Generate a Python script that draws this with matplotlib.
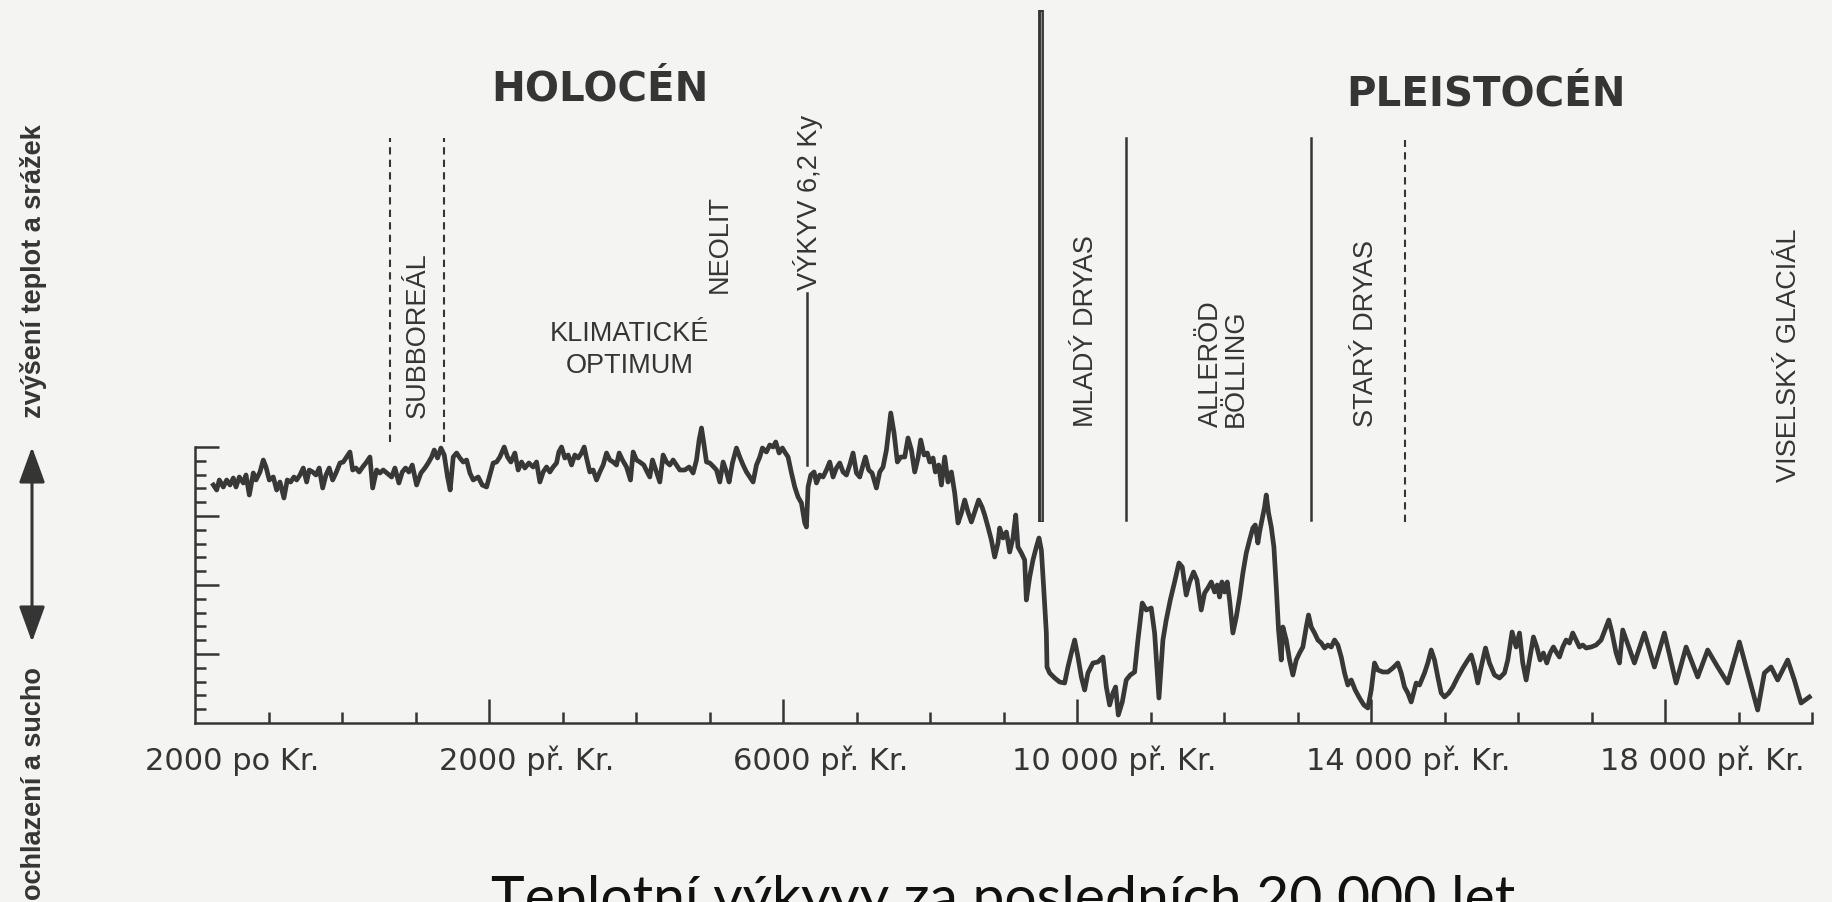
import matplotlib
matplotlib.use("Agg")
import matplotlib.pyplot as plt
import numpy as np

# curve: years before 2000 AD and a relative climate level (axis 0..276)
years_bp = np.array([
    250, 295, 331, 385, 431, 476, 521, 558, 603, 657, 694, 739, 793, 830, 884, 929, 966, 1011,
    1065, 1111, 1156, 1210, 1255, 1301, 1346, 1383, 1428, 1473, 1519, 1554, 1601, 1646, 1690,
    1737, 1782, 1826, 1873, 1918, 1972, 2017, 2063, 2108, 2145, 2190, 2234, 2281, 2335, 2380,
    2417, 2471, 2516, 2561,
    2675, 2720, 2774, 2820, 2865, 2910, 2956, 3015, 3074, 3128, 3173, 3219, 3255, 3300, 3346,
    3391, 3436, 3472, 3513, 3559, 3604, 3649, 3695, 3740, 3785, 3853, 3908, 3967, 4012, 4057,
    4103, 4148, 4207, 4252, 4298, 4352, 4397, 4443, 4488, 4542, 4601, 4647, 4692, 4737, 4783,
    4828, 4873, 4919, 4950, 4987, 5032, 5077, 5123, 5168, 5213, 5259, 5295, 5327, 5372, 5417,
    5463, 5508, 5553, 5599, 5644, 5689, 5735, 5771, 5816, 5871, 5925, 5961, 6007, 6052, 6106,
    6152, 6188, 6224, 6270, 6324, 6369, 6415, 6460, 6505, 6551, 6596, 6664, 6723, 6777, 6823,
    6859, 6891, 6922, 6959, 7004, 7058, 7095, 7140, 7185, 7231, 7267, 7312, 7367, 7412, 7457,
    7503, 7548, 7593, 7639, 7684, 7720, 7774, 7820, 7865, 7901, 7947, 7992, 8024, 8069, 8115,
    8160, 8205,
    8251, 8296, 8319, 8341, 8378, 8423, 8455, 8500, 8545, 8591, 8636, 8681, 8727, 8772, 8817,
    8863, 8908, 8953, 8999, 9044, 9089, 9121, 9166, 9212, 9271, 9316, 9361, 9407, 9466, 9511,
    9556, 9602, 9656, 9701, 9747, 9792, 9837, 9874, 9919, 9964, 9996, 10041, 10073, 10118,
    10155, 10200, 10245, 10291, 10336, 10381, 10427, 10472, 10517, 10563, 10608, 10662, 10708,
    10744, 10789, 10835, 10880, 10925,
    10948, 10993, 11039, 11084, 11129, 11166, 11197, 11243, 11288, 11311, 11356, 11401, 11447,
    11483, 11515, 11546, 11583, 11592, 11628, 11696, 11764, 11832, 11877, 11923, 11968, 12013,
    12059, 12104, 12149, 12217, 12285, 12353, 12399, 12444, 12489, 12525, 12562, 12616, 12670,
    12725, 12784, 12829, 12888, 12942, 13010, 13056, 13115, 13169, 13214, 13269, 13328, 13387,
    13432, 13486, 13532, 13586, 13632, 13690, 13736,
    13781, 13827, 13872, 13908, 13940, 13972, 14008, 14044, 14076, 14121, 14167, 14212, 14257,
    14303, 14348, 14393, 14425, 14461, 14484, 14516, 14552, 14575, 14606, 14643, 14679, 14711,
    14742, 14779, 14801, 14847, 14892, 14937, 14983, 15028, 15073, 15119, 15150, 15187, 15232,
    15277, 15323, 15368, 15413, 15459, 15504, 15549, 15595, 15640, 15685, 15731, 15785, 15844,
    15903, 15957, 16003, 16048, 16093, 16161, 16229, 16297, 16365, 16411, 16456, 16501, 16547,
    16615, 16660, 16728, 16773, 16819, 16864, 16909, 16955, 17000, 17059, 17113, 17181, 17249,
    17317, 17363, 17408, 17453, 17499, 17558, 17612, 17680, 17748, 17816, 17861, 17920, 17975,
    18020, 18065, 18111, 18156, 18210, 18256, 18301, 18346, 18392, 18437, 18482, 18528, 18564,
    18609, 18655, 18700, 18745, 18791, 18836, 18881, 18927, 18995, 19063, 19131, 19199, 19235,
    19280, 19335, 19380,
    19425, 19584, 19720, 19856, 19992, 20151, 20287, 20445, 20581, 20717, 20853, 21012, 21125,
    21261, 21352, 21443, 21533, 21669, 21760, 21851, 21964,
])
level = np.array([
    238, 233, 243, 236, 243, 238, 245, 236, 246, 240, 248, 228, 250, 243, 251, 263, 256, 243,
    246, 233, 241, 225, 243, 241, 246, 243, 248, 255, 241, 253, 251, 248, 255,
    235, 248, 255, 243, 250, 260, 261, 266, 271, 253, 255, 251, 256, 261, 266,
    235, 253, 250, 253,
    246, 255, 240, 251, 255, 251, 258, 238, 250, 255, 260, 266, 273, 265, 275,
    268, 246, 233, 266, 270, 265, 261, 263, 250, 243, 246, 238, 236, 248, 260,
    261, 266, 276, 266, 261, 270, 253, 261, 255, 260, 256, 261, 241, 251, 256,
    251, 256, 260, 271, 276, 265, 268, 258, 268, 265, 270, 276, 265, 251, 253,
    243, 251, 258, 270, 263, 261, 258, 270, 263, 256, 243, 271, 263, 261, 258,
    251, 246, 263, 253, 241, 268, 261, 258, 263, 258, 253, 253, 256, 250, 263,
    283, 295, 280, 261, 260, 256, 253, 241, 261, 251, 241, 260, 275, 266, 258,
    251, 246, 241, 258, 266, 275, 271, 278, 276, 281, 270, 275, 271, 266, 250,
    236, 226,
    220, 200, 196, 236, 248, 251, 240, 248, 246, 253, 261, 246, 255, 260, 251,
    248, 258, 270, 250, 246, 258, 266, 253, 250, 235, 251, 256, 273, 310, 290,
    261, 266, 266, 285, 273, 251, 265, 283, 268, 270, 261, 265, 251, 258,
    238, 266, 241, 251, 230, 200, 210, 223, 211, 201, 211, 223, 216,
    208, 196, 183, 166, 180,
    195, 185, 191, 171, 185, 208, 176, 170, 163, 123, 146, 163, 176,
    185, 173, 136, 90, 56, 50, 45, 41, 40, 56, 70, 83, 66,
    46, 33, 50, 60, 61, 66, 36, 18, 30, 36, 8, 21, 43,
    48, 51, 83, 120, 113, 115, 90, 25, 83, 103, 123, 141, 160,
    156, 128, 141, 151, 143, 113, 130,
    135, 141, 131, 138, 126, 141, 131, 141, 123, 90, 106, 126, 150,
    170, 183, 195, 198, 180, 191, 203, 216, 228, 210, 196, 176, 136,
    93, 63, 96, 83, 63, 48, 63, 70, 76, 96, 108, 96, 90,
    83, 80, 75, 78, 76, 83, 78, 66, 50, 38, 43, 33, 25,
    18, 15, 33, 60, 53, 51, 51, 55, 60, 50, 36, 30, 21,
    40, 38, 50, 60, 73, 63, 46, 30, 26, 30, 36, 46, 55,
    63, 68, 56, 40, 56, 75, 60, 48, 45, 50, 63, 91, 76,
    90, 60, 43, 63, 86, 76, 63, 70, 60, 70, 76, 70, 66,
    76, 83, 80, 90, 83, 76, 78, 75, 76, 78, 83, 96, 103,
    90, 70, 60,
    93, 60, 90, 56, 90, 40, 76, 46, 73, 56, 40, 81, 50,
    13, 50, 56, 43, 63, 43, 20, 26,
])

# x axis labels
tick_years = [0, 4000, 8000, 12000, 16000, 20000]
tick_labels = ['2000 po Kr.', '2000 př. Kr.', '6000 př. Kr.', '10 000 př. Kr.',
               '14 000 př. Kr.', '18 000 př. Kr.']

# period boundaries (years before 2000 AD)
boundary_years = [2650, 3390, 8320, 11510, 12670, 15190, 16460]

# period names written vertically
period_names = ['SUBBOREÁL', 'NEOLIT', 'VÝKYV 6,2 Ky', 'MLADÝ DRYAS',
                'ALLERÖD\nBÖLLING', 'STARÝ DRYAS', 'VISELSKÝ GLACIÁL']
period_years = [3030, 7140, 8340, 12120, 13990, 15930, 21690]

ink = '#353535'
fig = plt.figure(figsize=(18.32, 9.02), dpi=100)
fig.patch.set_facecolor('#f4f4f2')
ax = fig.add_axes([195 / 1832, 179 / 902, 1617 / 1832, 276 / 902])
ax.set_facecolor('none')
ax.set_xlim(0, 22000)
ax.set_ylim(0, 276)

for side in ['top', 'right']:
    ax.spines[side].set_visible(False)
for side in ['left', 'bottom']:
    ax.spines[side].set_linewidth(1.8)
    ax.spines[side].set_color(ink)

ax.set_xticks(np.arange(4000, 20001, 4000))
ax.set_xticks(np.arange(1000, 22001, 1000), minor=True)
ax.set_yticks([69, 138, 207, 276])
ax.set_yticks(np.arange(13.8, 276.1, 13.8), minor=True)
ax.tick_params(which='both', direction='in', width=1.8, color=ink,
               labelleft=False, labelbottom=False)
ax.tick_params(which='major', length=17)
ax.tick_params(which='minor', length=8)

# tick labels sit a little right of their ticks
for yr, lab in zip(tick_years, tick_labels):
    ax.annotate(lab, (yr, 0), textcoords='offset points', xytext=(27, -34),
                ha='center', va='baseline', fontsize=22, color=ink,
                family='DejaVu Sans', annotation_clip=False)

# the curve
ax.plot(years_bp, level, color='#383838', lw=3.4, clip_on=False,
        solid_joinstyle='round')

# boundaries: style, bottom, top
boundary_layout = [('dashed', 281, 585), ('dashed', 281, 585), ('solid', 258, 430),
                   ('thick', 201, 713), ('solid', 203, 585), ('solid', 203, 585),
                   ('dashed', 201, 583)]
for yr, (style, lo, hi) in zip(boundary_years, boundary_layout):
    if style == 'dashed':
        ax.plot([yr, yr], [lo, hi], color=ink, lw=1.5, linestyle=(0, (3.5, 2.5)),
                clip_on=False)
    elif style == 'thick':
        ax.plot([yr, yr], [lo, hi], color=ink, lw=4.2, clip_on=False,
                solid_capstyle='butt')
        ax.plot([yr, yr], [lo + 2, hi - 2], color='#8c8c8c', lw=0.8, clip_on=False)
    else:
        ax.plot([yr, yr], [lo, hi], color=ink, lw=1.8, clip_on=False)

label_bottoms = [305, 430, 433, 296, 296, 296, 241]
for yr, name, lo in zip(period_years, period_names, label_bottoms):
    ax.text(yr, lo, name, rotation=90, ha='center', va='bottom', multialignment='left',
            linespacing=0.9, fontsize=19.5, color=ink, family='Liberation Sans')

ax.text(5916, 373, 'KLIMATICKÉ\nOPTIMUM', ha='center', va='center', linespacing=1.3,
        fontsize=19.5, color=ink, family='Liberation Sans')
ax.text(5508, 634, 'HOLOCÉN', ha='center', va='center', fontsize=29,
        fontweight='bold', color=ink, family='DejaVu Sans')
ax.text(17571, 629, 'PLEISTOCÉN', ha='center', va='center', fontsize=29,
        fontweight='bold', color=ink, family='DejaVu Sans')

# vertical axis meaning
fig.text(34 / 1832, 1 - 418 / 902, 'zvýšení teplot a srážek', rotation=90, ha='center',
         va='bottom', fontsize=19.5, fontweight='bold', color=ink, family='Liberation Sans')
fig.text(34 / 1832, 1 - 667 / 902, 'ochlazení a sucho', rotation=90, ha='center',
         va='top', fontsize=19.5, fontweight='bold', color=ink, family='Liberation Sans')
ax.annotate('', xy=(32, 902 - 447), xytext=(32, 902 - 642), xycoords='figure pixels',
            textcoords='figure pixels',
            arrowprops=dict(arrowstyle='<|-|>, head_length=1.1, head_width=0.4',
                            mutation_scale=20, lw=2.2, color=ink, shrinkA=0, shrinkB=0))

fig.text(1003 / 1832, 1 - 875 / 902, 'Teplotní výkyvy za posledních 20 000 let',
         ha='center', va='top', fontsize=41, color='#111111', family='Lato')

fig.savefig('out.png', dpi=100, facecolor=fig.get_facecolor())
